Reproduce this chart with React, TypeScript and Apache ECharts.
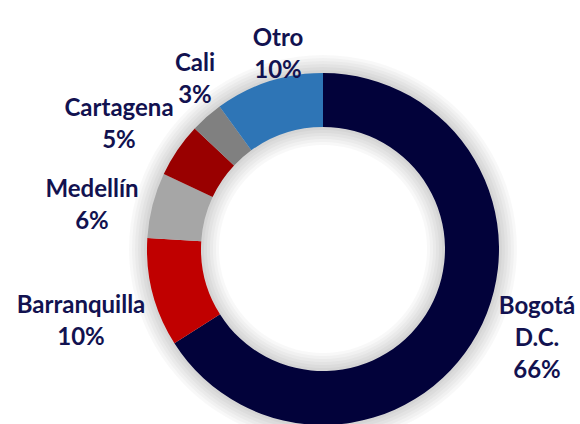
import React, { useEffect, useRef } from "react";
import * as echarts from "echarts";

const CITIES = ["Bogotá D.C.", "Barranquilla", "Medellín", "Cartagena", "Cali", "Otro"];
const SHARES = [66, 10, 6, 5, 3, 10];
const COLORS = ["#02023a", "#c00000", "#a6a6a6", "#990000", "#808080", "#2e75b6"];
// label block centres relative to the pie centre (layout, not data)
const LABEL_OFFSETS: [number, number][] = [
  [214, 87],
  [-242, 70],
  [-231, -46],
  [-204, -127],
  [-128, -172],
  [-45, -197],
];

const CX = 323;
const CY = 249;
const R_IN = 122;
const R_OUT = 176;
const GLOW_STEPS = [3, 6, 9, 12, 15, 18];

export default function App() {
  const ref = useRef<HTMLDivElement>(null);
  useEffect(() => {
    if (!ref.current) return;
    const chart = echarts.init(ref.current, undefined, { renderer: "svg" });
    const glow = GLOW_STEPS.map((s) => ({
      type: "pie",
      silent: true,
      center: [CX, CY],
      radius: [R_IN - s, R_OUT + s],
      label: { show: false },
      labelLine: { show: false },
      itemStyle: { color: "rgba(0,0,0,0.028)" },
      data: [{ value: 1, name: "" }],
      z: 1,
    }));
    chart.setOption({
      animation: false,
      backgroundColor: "#ffffff",
      series: [
        ...glow,
        {
          type: "pie",
          center: [CX, CY],
          radius: [R_IN, R_OUT],
          startAngle: 90,
          clockwise: true,
          z: 2,
          label: {
            show: true,
            position: "outside",
            overflow: "none",
            color: "#121250",
            fontFamily: "Lato",
            fontWeight: "bold",
            fontSize: 24,
            lineHeight: 32,
            align: "center",
            formatter: (p: any) => `${String(p.name).replace(" ", "\n")}\n${p.value}%`,
          },
          labelLine: { show: false },
          labelLayout: (params: any) => {
            const off = LABEL_OFFSETS[params.dataIndex];
            return {
              x: CX + off[0],
              y: CY + off[1],
              align: "center",
              verticalAlign: "middle",
              moveOverlap: false,
              hideOverlap: false,
            };
          },
          itemStyle: { borderWidth: 0 },
          data: CITIES.map((name, i) => ({
            name,
            value: SHARES[i],
            itemStyle: { color: COLORS[i] },
          })),
        },
      ],
    });
    return () => chart.dispose();
  }, []);
  return (
    <div
      ref={ref}
      style={{ position: "fixed", left: 0, top: 0, width: 580, height: 424 }}
    />
  );
}
